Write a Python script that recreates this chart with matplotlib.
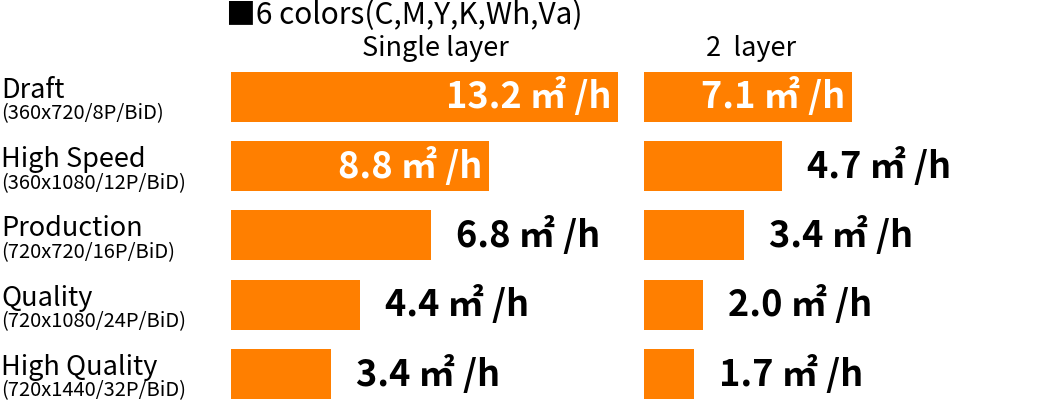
import matplotlib
matplotlib.use('Agg')
import matplotlib.pyplot as plt
import matplotlib.transforms as mtransforms

plt.rcParams['font.family'] = ['Noto Sans CJK JP', 'DejaVu Sans']

modes = ['Draft', 'High Speed', 'Production', 'Quality', 'High Quality']
modes_sub = ['(360x720/8P/BiD)', '(360x1080/12P/BiD)', '(720x720/16P/BiD)',
             '(720x1080/24P/BiD)', '(720x1440/32P/BiD)']
single_layer = [13.2, 8.8, 6.8, 4.4, 3.4]
two_layer = [7.1, 4.7, 3.4, 2.0, 1.7]

orange = '#FF7F00'
W, H = 1040, 404
s = 29.35  # px per m2/h
row = 69.25  # px per row

fig = plt.figure(figsize=(W / 100, H / 100), dpi=100)
ax1 = fig.add_axes([231 / W, 0, 14 * s / W, (H - 62) / H])
ax2 = fig.add_axes([644 / W, 0, 13 * s / W, (H - 62) / H])

ypos = list(range(len(modes)))

def draw(ax, vals):
    ax.barh(ypos, vals, height=0.722, color=orange)
    ax.set_xlim(0, ax.get_position().width * W / s)
    ax.set_ylim(4.433, -0.505)
    ax.axis('off')
    for i, v in enumerate(vals):
        txt = f'{v:.1f} ㎡ /h'
        if v >= 7:
            ax.annotate(txt, (v, i), xytext=(-7, 0), textcoords='offset pixels',
                        ha='right', va='center', color='white', fontsize=26,
                        fontweight='bold')
        else:
            ax.annotate(txt, (v, i), xytext=(25, 0), textcoords='offset pixels',
                        ha='left', va='center', color='black', fontsize=26,
                        fontweight='bold', annotation_clip=False)

draw(ax1, single_layer)
draw(ax2, two_layer)

fig.text(435 / W, 1 - 49 / H, 'Single layer', ha='center', va='center', fontsize=19.5)
fig.text(751 / W, 1 - 49 / H, '2  layer', ha='center', va='center', fontsize=19.5)
fig.text(226 / W, 1 - 16 / H, '■6 colors(C,M,Y,K,Wh,Va)', ha='left', va='center', fontsize=21.5)

tr = mtransforms.blended_transform_factory(fig.transFigure, ax1.transData)
for i, (m, sub) in enumerate(zip(modes, modes_sub)):
    fig.text(1 / W, i + 1 / row, m, transform=tr, ha='left', va='baseline', fontsize=19.5)
    fig.text(1 / W, i + 17 / row, sub, transform=tr, ha='left', va='center', fontsize=14.5)

fig.savefig('out.png', dpi=100)
